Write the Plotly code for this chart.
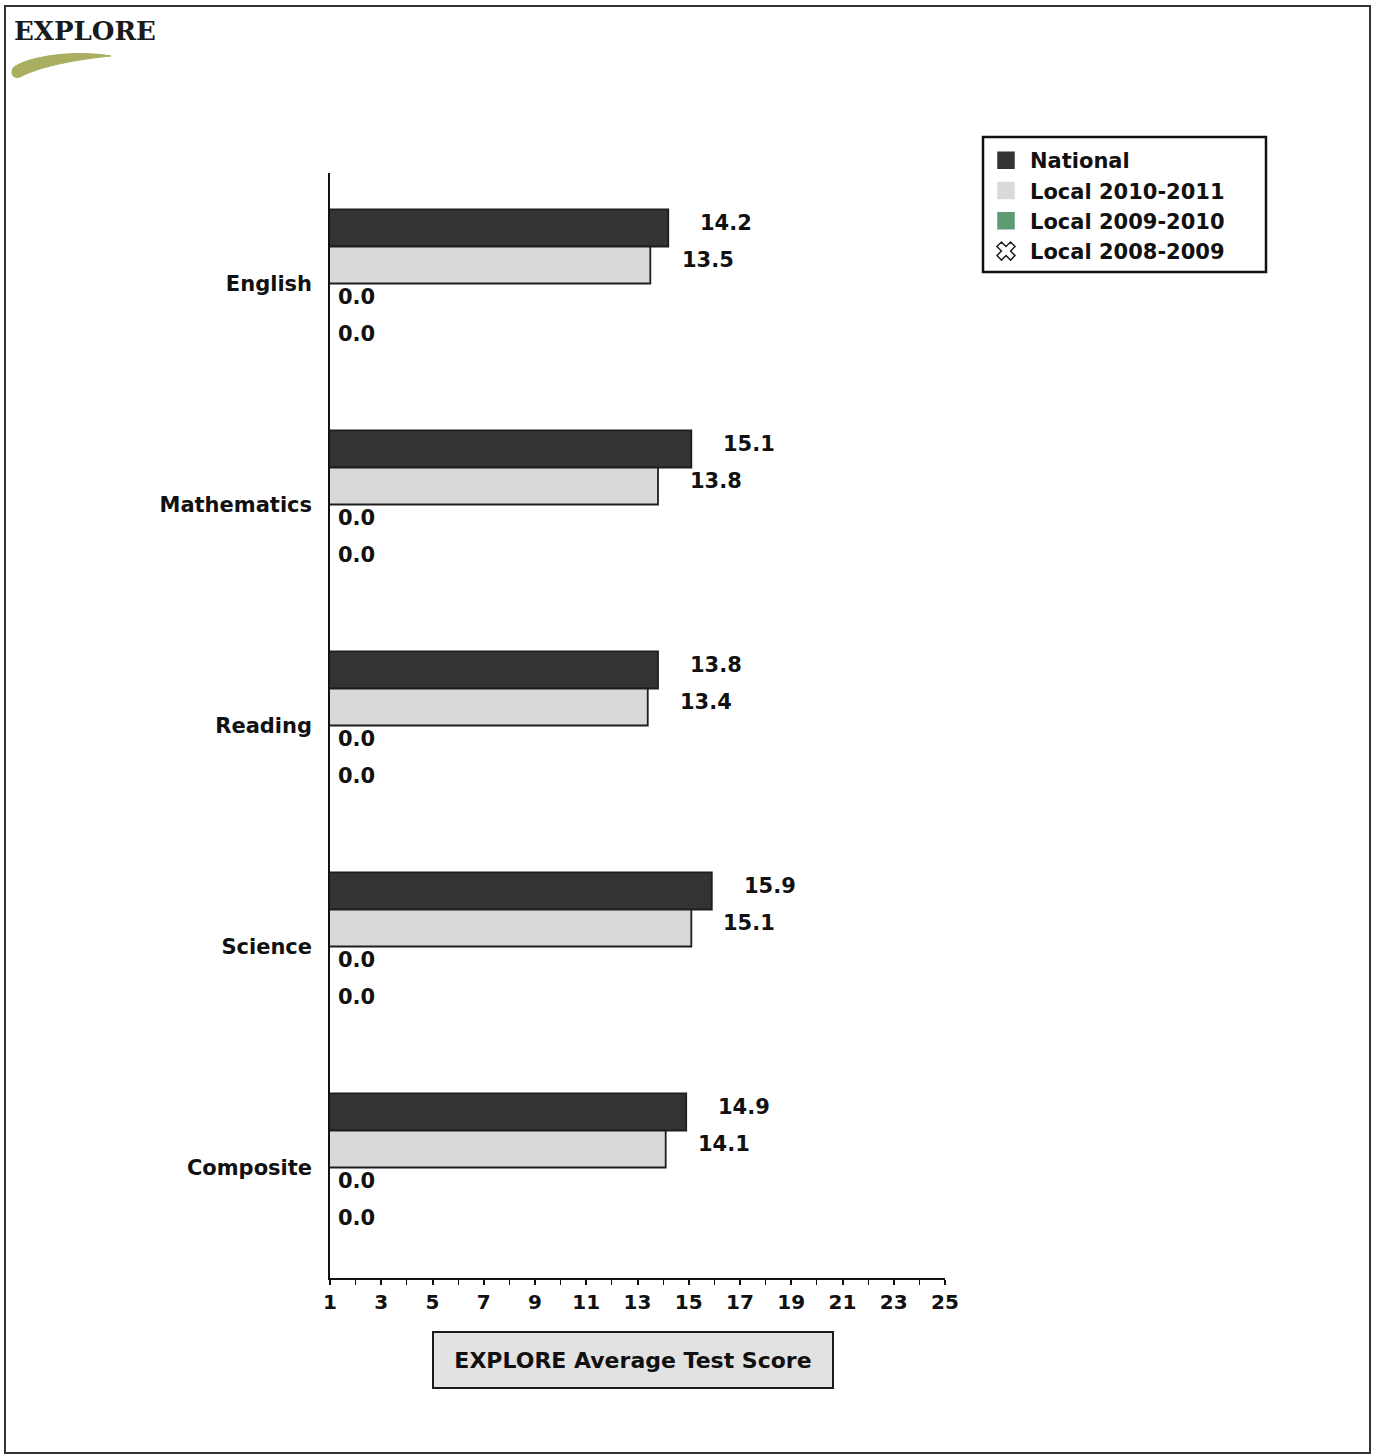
import plotly.graph_objects as go

categories = ["English", "Mathematics", "Reading", "Science", "Composite"]
series_names = ["National", "Local 2010-2011", "Local 2009-2010", "Local 2008-2009"]
national = [14.2, 15.1, 13.8, 15.9, 14.9]
local_2010_2011 = [13.5, 13.8, 13.4, 15.1, 14.1]
local_2009_2010 = [0.0, 0.0, 0.0, 0.0, 0.0]
local_2008_2009 = [0.0, 0.0, 0.0, 0.0, 0.0]
x_tick_values = [1, 3, 5, 7, 9, 11, 13, 15, 17, 19, 21, 23, 25]
x_title = "EXPLORE Average Test Score"

series_values = [national, local_2010_2011, local_2009_2010, local_2008_2009]
series_colors = ["#313431", "#d9d9d9", "#5e9b74", "#ffffff"]
series_patterns = ["", "", "", "x"]

W, H = 1373, 1455
L, R, T, B = 330, 945, 173, 1278  # plot area in pixels
FONT = "DejaVu Sans, Verdana, sans-serif"
BARGAP = 0.33


def px(x):
    return (x - L) / (R - L)


def py(y):
    return (B - y) / (B - T)


fig = go.Figure()
for name, vals, col, pat in zip(series_names, series_values, series_colors, series_patterns):
    fig.add_trace(go.Bar(
        name=name, y=categories, x=vals, orientation="h", legendgroup=name, showlegend=False,
        marker=dict(color=col, line=dict(color="#1e1e1e", width=1.8),
                    pattern=dict(shape=pat, fgcolor="#111111", bgcolor="#ffffff", size=8, solidity=0.35)
                    if pat else None),
        hoverinfo="x+y+name",
    ))

# legend entries (large square swatches)
legend_symbols = ["square", "square", "square", "x-open"]
legend_fill = ["#313431", "#d9d9d9", "#5e9b74", "#222222"]
legend_line = ["#313431", "#d9d9d9", "#5e9b74", "#222222"]
for name, sym, fc, lc in zip(series_names, legend_symbols, legend_fill, legend_line):
    fig.add_trace(go.Scatter(
        x=[None], y=[None], mode="markers", name=name, legendgroup=name, showlegend=True,
        marker=dict(symbol=sym, size=16, color=fc, line=dict(color=lc, width=1.5)),
        hoverinfo="skip",
    ))

annotations = []
w = (1 - BARGAP) / len(series_values)
for k, vals in enumerate(series_values):
    for i, v in enumerate(vals):
        annotations.append(dict(
            x=max(v, 1), y=i + (k - (len(series_values) - 1) / 2) * w,
            xref="x", yref="y", text=f"{v:.1f}", showarrow=False,
            xanchor="left", yanchor="middle", xshift=(30 if v > 1 else 6), yshift=5,
            font=dict(family=FONT, size=21, color="#111111", weight="bold"),
        ))

# axis title box
annotations.append(dict(
    x=px(633), y=py(1360), xref="paper", yref="paper", text=x_title, showarrow=False,
    xanchor="center", yanchor="middle", bgcolor="#e2e2e2", bordercolor="#1a1a1a",
    borderwidth=2, borderpad=4, width=390, height=46,
    font=dict(family=FONT, size=22, color="#111111", weight="bold"),
))
# logo text
annotations.append(dict(
    x=px(12), y=py(31), xref="paper", yref="paper", text="EXPLORE", showarrow=False,
    xanchor="left", yanchor="middle",
    font=dict(family="DejaVu Serif, Liberation Serif, serif", size=26, color="#1a1a1a", weight="bold"),
))


def pt(x, y):
    return f"{px(x)},{py(y)}"


shapes = [
    # outer page border
    dict(type="rect", xref="paper", yref="paper", x0=px(5), x1=px(1370), y0=py(6), y1=py(1453),
         line=dict(color="#333333", width=2), fillcolor="rgba(0,0,0,0)", layer="below"),
    # legend box
    dict(type="rect", xref="paper", yref="paper", x0=px(983), x1=px(1266), y0=py(137), y1=py(272),
         line=dict(color="#111111", width=2.5), fillcolor="rgba(0,0,0,0)"),
    # logo swoosh
    dict(type="path", xref="paper", yref="paper",
         path=(f"M{pt(13, 68)} C{pt(24, 58)} {pt(70, 49)} {pt(111, 56)} "
               f"C{pt(80, 59)} {pt(40, 66)} {pt(20, 77)} C{pt(14, 79)} {pt(10, 75)} {pt(13, 68)} Z"),
         fillcolor="#a9ae60", line=dict(color="#a9ae60", width=1)),
]

fig.update_layout(
    width=W, height=H, autosize=False,
    margin=dict(l=L, r=W - R, t=T, b=H - B, pad=0),
    paper_bgcolor="white", plot_bgcolor="white",
    barmode="group", bargap=BARGAP, bargroupgap=0,
    font=dict(family=FONT, color="#111111"),
    showlegend=True,
    legend=dict(
        x=px(982), y=py(140), xanchor="left", yanchor="top",
        borderwidth=0, bgcolor="rgba(0,0,0,0)",
        font=dict(family=FONT, size=21, color="#111111", weight="bold"),
        tracegroupgap=0, itemwidth=38, itemsizing="trace",
    ),
    xaxis=dict(
        range=[1, 25], tickvals=x_tick_values, ticks="outside", ticklen=5,
        tickcolor="#111111", tickwidth=1.5,
        minor=dict(dtick=1, tick0=1, ticks="outside", ticklen=5, tickcolor="#111111", tickwidth=1.2),
        showline=True, linecolor="#111111", linewidth=1.5, showgrid=False, zeroline=False,
        tickfont=dict(family=FONT, size=20, color="#111111", weight="bold"),
    ),
    yaxis=dict(
        autorange="reversed", showline=True, linecolor="#111111", linewidth=1.5,
        showgrid=False, ticks="", ticklabelstandoff=12,
        tickfont=dict(family=FONT, size=21, color="#111111", weight="bold"),
    ),
    annotations=annotations,
    shapes=shapes,
)

fig.write_html("out.html", config={"displayModeBar": False},
               post_script="document.body.style.margin='0';")
